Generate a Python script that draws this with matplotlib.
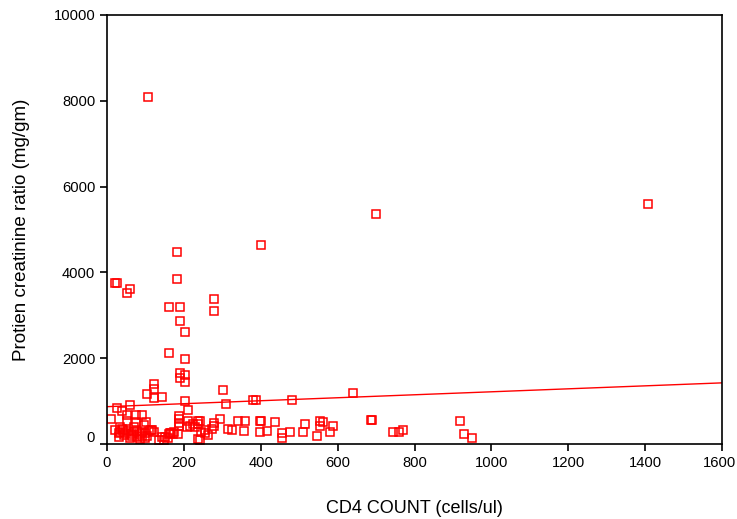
import matplotlib
matplotlib.use("Agg")
import matplotlib.pyplot as plt
import matplotlib.transforms as mtransforms

plt.rcParams['font.family'] = ['Liberation Sans', 'DejaVu Sans']

cd4 = [107, 22, 25, 61, 53, 181, 181, 160, 189, 189, 204, 279, 279, 400, 699, 1408,
       160, 204, 189, 189, 204, 204, 121, 121, 103, 121, 142, 301, 204, 309, 381, 388,
       481, 640,
       25, 60, 40, 211, 51, 75, 92, 10, 53, 75, 101, 187, 187, 187, 187, 211, 236, 236,
       294, 279, 279, 272, 316, 342, 359, 397, 400, 438, 515, 554, 563, 554, 589, 686,
       690, 919, 928, 950, 744, 759, 769, 580, 546, 511, 455, 455, 476, 356, 398, 416,
       324, 236, 142, 151, 165, 160, 172, 185, 207, 215, 223, 228, 245, 254, 262, 242,
       242, 255,
       20, 30, 35, 42, 48, 55, 62, 70, 78, 85, 92, 100, 108, 115, 122, 30, 65, 78, 92,
       105, 45, 60, 85, 100, 136, 149, 158, 166, 175, 40, 70, 95, 34, 116]
pcr = [8080, 3760, 3755, 3620, 3530, 4480, 3850, 3200, 3200, 2875, 2605, 3390, 3095,
       4650, 5360, 5600,
       2110, 1980, 1655, 1550, 1600, 1450, 1400, 1285, 1165, 1070, 1100, 1255, 1005, 935,
       1020, 1025, 1025, 1196,
       836, 910, 780, 797, 670, 665, 665, 575, 545, 505, 505, 650, 575, 500, 430, 545,
       545, 475, 582, 490, 410, 340, 350, 543, 543, 543, 525, 505, 473, 543, 504, 411,
       411, 566, 560, 543, 242, 143, 272, 272, 335, 272, 180, 272, 259, 143, 282, 312,
       273, 296, 335, 120, 165, 165, 265, 240, 235, 235, 400, 420, 460, 400, 270, 320,
       210, 527, 104, 258,
       330, 260, 290, 320, 250, 300, 240, 270, 300, 240, 280, 250, 300, 330, 270, 170,
       180, 170, 180, 185, 210, 140, 120, 150, 100, 90, 130, 250, 280, 360, 400, 450,
       400, 335]

fit_x = [0, 1600]
fit_y = [870, 1425]

x_ticks = [0, 200, 400, 600, 800, 1000, 1200, 1400, 1600]
y_ticks = [0, 2000, 4000, 6000, 8000, 10000]

fig = plt.figure(figsize=(7.37, 5.19), dpi=100)
ax = fig.add_axes([107/737, 1-444/519, (722-107)/737, (444-15)/519])

ax.plot(cd4, pcr, linestyle='none', marker='s', markersize=5.3,
        markerfacecolor='none', markeredgecolor='#ff0000', markeredgewidth=1.1)
ax.plot(fit_x, fit_y, color='#ff0000', linewidth=1.0)

ax.set_xlim(0, 1600)
ax.set_ylim(0, 10000)
ax.set_xticks(x_ticks)
ax.set_yticks(y_ticks)
ax.set_xticklabels([str(v) for v in x_ticks])
ax.set_yticklabels([str(v) for v in y_ticks])
ax.tick_params(direction='out', length=5, width=1.2, labelsize=10.6, colors='black')
for s in ax.spines.values():
    s.set_linewidth(1.2)
    s.set_color('black')

# shift the "0" y tick label upward like the reference
lab0 = ax.get_yticklabels()[0]
lab0.set_transform(lab0.get_transform() + mtransforms.ScaledTranslation(0, 8/100, fig.dpi_scale_trans))
# keep the last x tick label inside the figure
labl = ax.get_xticklabels()[-1]
labl.set_transform(labl.get_transform() + mtransforms.ScaledTranslation(-3/100, 0, fig.dpi_scale_trans))

ax.set_xlabel('CD4 COUNT (cells/ul)', fontsize=13, labelpad=22)
ax.set_ylabel('Protien creatinine ratio (mg/gm)', fontsize=13.5, labelpad=17)

fig.savefig('out.png', dpi=100)
